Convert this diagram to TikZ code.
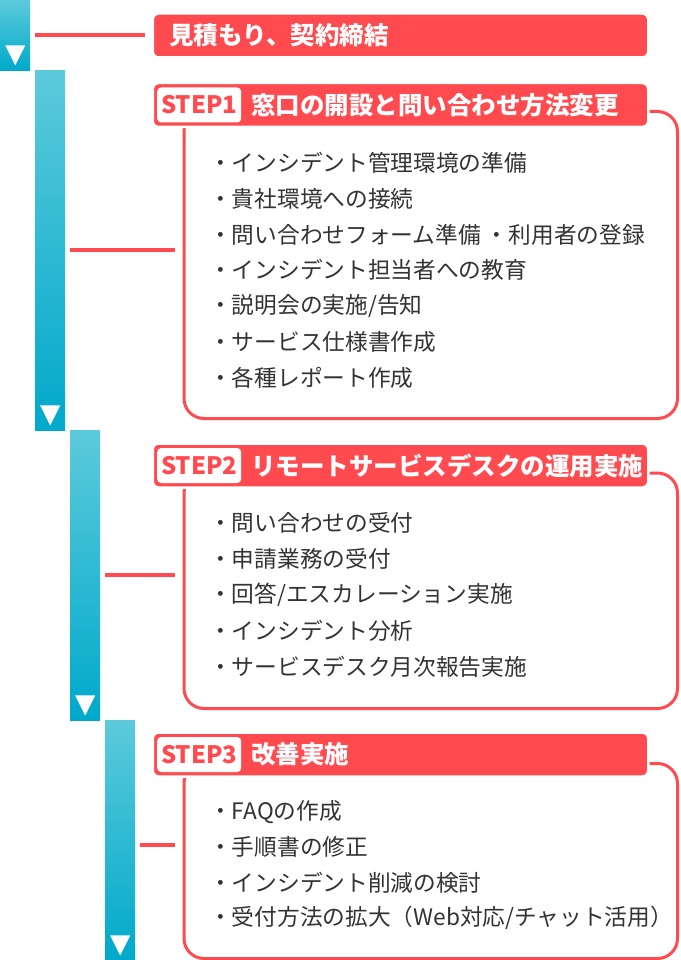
\documentclass[tikz,border=0pt]{standalone}
\usepackage{fontspec}
\setmainfont{Noto Sans CJK JP}
\usepackage{tikz}
\usetikzlibrary{positioning,shadows}
\definecolor{flowred}{HTML}{FF4B4F}
\definecolor{bartop}{HTML}{5CCADB}
\definecolor{barbot}{HTML}{00A9CB}
\definecolor{ink}{HTML}{333333}
\tikzstyle{bar} = [rectangle, inner sep=0pt, minimum width=30pt, top color=bartop, bottom color=barbot, anchor=north west]
\tikzstyle{tri} = [fill=white]
\tikzstyle{link} = [draw=flowred, line width=4pt]
\tikzstyle{head} = [rectangle, rounded corners=6pt, fill=flowred, draw=white, line width=2.5pt, minimum width=495.5pt, minimum height=44pt, anchor=west, drop shadow={shadow xshift=0pt, shadow yshift=-1pt, opacity=.2}]
\tikzstyle{panel} = [rectangle, rounded corners=20pt, fill=white, draw=flowred, line width=3pt, minimum width=493.5pt, anchor=north west]
\tikzstyle{tag} = [rectangle, rounded corners=4pt, fill=white, text=flowred, font=\bfseries\fontsize{24}{24}\selectfont, minimum width=84pt, minimum height=35pt, inner sep=0pt]
\tikzstyle{htext} = [text=white, font=\bfseries\fontsize{24.5}{26}\selectfont, inner sep=0pt]
\tikzstyle{item} = [text=ink, font=\fontsize{22.7}{26}\selectfont, inner sep=0pt, anchor=west]

\begin{document}
\begin{tikzpicture}[x=1pt, y=-1pt]
\useasboundingbox (0,0) rectangle (680,960);
% flow bars
\node (bar0) [bar, minimum height=70pt] at (0,0) {};
\fill [tri] ([yshift=5pt]bar0.south) -- ++(-10,-20) -- ++(20,0) -- cycle;
\node (bar1) [bar, minimum height=360pt] at (35,70) {};
\fill [tri] ([yshift=5pt]bar1.south) -- ++(-10,-20) -- ++(20,0) -- cycle;
\node (bar2) [bar, minimum height=290pt] at (70,430) {};
\fill [tri] ([yshift=5pt]bar2.south) -- ++(-10,-20) -- ++(20,0) -- cycle;
\node (bar3) [bar, minimum height=240pt] at (105,720) {};
\fill [tri] ([yshift=5pt]bar3.south) -- ++(-10,-20) -- ++(20,0) -- cycle;

% contract
\node (head0) [head] at (151.5,35.5) {};
\node (title0) [htext, right=17.5pt of head0.west] {見積もり、契約締結};
\draw [link] ([xshift=5pt]bar0.east) -- ([xshift=-6.5pt]bar0.east -| head0.west);

% step 1
\node (box1) [panel, minimum height=307pt] at (182.5,110) {};
\node (head1) [head] at (151.5,105) {};
\node (tag1) [tag, right=5.5pt of head1.west] {STEP1};
\node (title1) [htext, right=9.5pt of tag1] {窓口の開設と問い合わせ方法変更};
\draw [link] ([xshift=5pt]bar1.east) -- ([xshift=-7.5pt]bar1.east -| box1.west);
\node (s1a) [item] at (209,163) {・インシデント管理環境の準備};
\node (s1b) [item] at (209,199) {・貴社環境への接続};
\node (s1c) [item] at (209,235) {・問い合わせフォーム準備 ・利用者の登録};
\node (s1d) [item] at (209,270) {・インシデント担当者への教育};
\node (s1e) [item] at (209,306) {・説明会の実施/告知};
\node (s1f) [item] at (209,342) {・サービス仕様書作成};
\node (s1g) [item] at (209,378) {・各種レポート作成};

% step 2
\node (box2) [panel, minimum height=235.5pt] at (182.5,471.5) {};
\node (head2) [head] at (151.5,465.5) {};
\node (tag2) [tag, right=5.5pt of head2.west] {STEP2};
\node (title2) [htext, right=9.5pt of tag2] {リモートサービスデスクの運用実施};
\draw [link] ([xshift=5pt]bar2.east) -- ([xshift=-7.5pt]bar2.east -| box2.west);
\node (s2a) [item] at (209,523) {・問い合わせの受付};
\node (s2b) [item] at (209,559) {・申請業務の受付};
\node (s2c) [item] at (209,595) {・回答/エスカレーション実施};
\node (s2d) [item] at (209,631) {・インシデント分析};
\node (s2e) [item] at (209,667) {・サービスデスク月次報告実施};

% step 3
\node (box3) [panel, minimum height=195pt] at (182.5,762) {};
\node (head3) [head] at (151.5,754.5) {};
\node (tag3) [tag, right=5.5pt of head3.west] {STEP3};
\node (title3) [htext, right=9.5pt of tag3] {改善実施};
\draw [link] ([xshift=5pt,yshift=-5pt]bar3.east) -- ([xshift=-7.5pt,yshift=-5pt]bar3.east -| box3.west);
\node (s3a) [item] at (209,812) {・FAQの作成};
\node (s3b) [item] at (209,847) {・手順書の修正};
\node (s3c) [item] at (209,883) {・インシデント削減の検討};
\node (s3d) [item] at (209,918) {・受付方法の拡大（Web対応/チャット活用）};
\end{tikzpicture}
\end{document}
